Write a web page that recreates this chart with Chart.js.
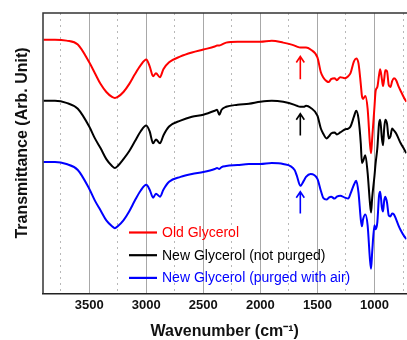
<!DOCTYPE html>
<html><head><meta charset="utf-8">
<script src="https://cdn.jsdelivr.net/npm/chart.js@4"></script>
<style>html,body{margin:0;padding:0;background:#fff;overflow:hidden}</style>
</head><body>
<canvas id="c" width="407" height="340"></canvas>
<script>
const wavenumbers = [3900,3800,3700,3600,3500,3450,3400,3350,3300,3275,3250,3200,3150,3100,3050,3000,2970,2940,2915,2880,2850,2800,2700,2600,2500,2400,2380,2360,2340,2300,2200,2100,2000,1900,1800,1700,1680,1650,1620,1600,1560,1500,1470,1450,1420,1400,1380,1350,1330,1300,1260,1230,1210,1180,1160,1140,1120,1110,1100,1080,1060,1040,1030,1020,1000,990,975,960,950,935,925,915,905,890,875,860,845,830,810,790,770,740,720];
const oldGlycerol = [260,260,259,255,237,226,215,207,202,201,202,207,215,225,234,240,233,223,226,222,230,237,243,247,250,253,254,254,255,257,258,258,258,259,257,254,253,252,252,252,250,242,227,222,218,217,220,221,219,222,221,223,226,238,241,236,215,203,200,203,190,155,145,160,192,208,212,224,230,220,213,220,229,228,214,212,218,221,219,213,208,201,197];
const newNotPurged = [198,198,196,190,172,160,150,139,132,130,132,139,147,157,167,173,167,155,159,155,163,172,178,182,184,188,189,184,189,192,194,195,197,198,197,194,193,192,192,193,191,183,170,165,160,162,165,166,164,166,169,170,172,182,188,180,155,135,137,143,125,95,85,100,122,135,150,175,179,160,153,170,179,175,160,162,170,168,165,160,155,149,145];
const newPurged = [136,136,134,128,109,97,87,77,71,69,71,77,86,97,107,113,108,100,104,101,108,116,121,124,126,129,130,129,131,132,133,134,134,135,134,128,122,112,117,121,124,119,107,100,98,100,101,99,101,102,100,99,104,113,117,105,78,71,78,83,72,38,28,45,72,68,75,102,106,90,86,97,101,95,82,81,84,83,78,72,67,61,58];
const seriesNames = ['Old Glycerol','New Glycerol (not purged)','New Glycerol (purged with air)'];
const seriesColors = ['#ff0000','#000000','#0000ff'];
const xTickValues = [3500,3000,2500,2000,1500,1000];
const arrowWavenumber = 1650;
const arrowHeads = [243,185,106];
const arrowTails = [220,163,84];

const FONT = "'Liberation Sans', Arial, sans-serif";
const seriesValues = [oldGlycerol, newNotPurged, newPurged];

const overlay = {
  id: 'overlay',
  afterDatasetsDraw(chart) {
    const {ctx, chartArea: a, scales: {x, y}} = chart;
    ctx.save();
    // frame top + left
    ctx.strokeStyle = '#333';
    ctx.lineWidth = 1.5;
    ctx.beginPath();
    ctx.moveTo(a.left, a.bottom);
    ctx.lineTo(a.left, a.top);
    ctx.lineTo(a.right + 2, a.top);
    ctx.stroke();
    // arrows
    for (let i = 0; i < 3; i++) {
      const px = x.getPixelForValue(arrowWavenumber);
      const yh = y.getPixelForValue(arrowHeads[i]);
      const yt = y.getPixelForValue(arrowTails[i]);
      ctx.strokeStyle = seriesColors[i];
      ctx.lineWidth = 1.6;
      ctx.beginPath();
      ctx.moveTo(px, yt); ctx.lineTo(px, yh);
      ctx.moveTo(px - 4, yh + 6); ctx.lineTo(px, yh); ctx.lineTo(px + 4, yh + 6);
      ctx.stroke();
    }
    // legend
    ctx.font = '14px ' + FONT;
    ctx.textBaseline = 'middle';
    for (let i = 0; i < 3; i++) {
      const ly = 232.5 + i * 22.7;
      ctx.strokeStyle = seriesColors[i];
      ctx.lineWidth = 2.2;
      ctx.beginPath(); ctx.moveTo(129, ly); ctx.lineTo(157, ly); ctx.stroke();
      ctx.fillStyle = seriesColors[i];
      ctx.fillText(seriesNames[i], 162, ly + 0.5);
    }
    // y title
    ctx.fillStyle = '#111';
    ctx.font = 'bold 16px ' + FONT;
    ctx.textAlign = 'center';
    ctx.translate(22.7, 143);
    ctx.rotate(-Math.PI / 2);
    ctx.fillText('Transmittance (Arb. Unit)', 0, 0);
    ctx.restore();
  }
};

new Chart(document.getElementById('c'), {
  type: 'line',
  data: {
    datasets: seriesValues.map((vals, i) => ({
      label: seriesNames[i],
      data: wavenumbers.map((w, k) => ({x: w, y: vals[k]})),
      borderColor: seriesColors[i],
      backgroundColor: seriesColors[i],
      borderWidth: 2,
      pointRadius: 0,
      cubicInterpolationMode: 'monotone',
      fill: false
    }))
  },
  options: {
    responsive: false,
    animation: false,
    devicePixelRatio: 1,
    layout: {padding: {left: 43, top: 13, right: 0, bottom: 0}},
    plugins: {legend: {display: false}, tooltip: {enabled: false}},
    scales: {
      x: {
        type: 'linear', reverse: true, min: 720, max: 3905,
        ticks: {
          stepSize: 250, includeBounds: false, autoSkip: false, maxRotation: 0, padding: 4,
          color: '#111', font: {family: FONT, size: 13, weight: 'bold'},
          callback: v => xTickValues.includes(v) ? String(v) : ''
        },
        grid: {
          drawTicks: false, lineWidth: 1,
          color: c => (c.tick && xTickValues.includes(c.tick.value)) ? '#a8a8a8' : '#b8b8b8'
        },
        border: {
          display: true, color: '#222', width: 1.5,
          dash: c => (c.tick && !xTickValues.includes(c.tick.value)) ? [2, 4] : []
        },
        title: {
          display: true, text: 'Wavenumber (cm⁻¹)', color: '#111',
          font: {family: FONT, size: 16, weight: 'bold', lineHeight: 1},
          padding: {top: 7, bottom: 0}
        }
      },
      y: {display: false, min: 3, max: 287}
    }
  },
  plugins: [overlay]
});
</script>
</body></html>
